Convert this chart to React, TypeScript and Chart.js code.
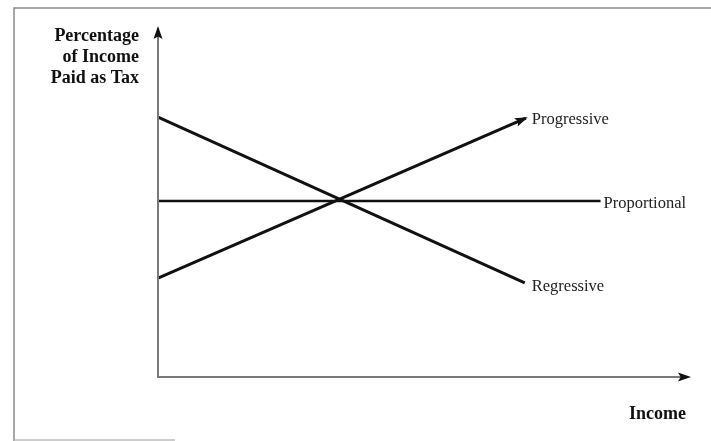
import React, { useEffect, useRef } from "react";
import { Chart, registerables } from "chart.js";

Chart.register(...registerables);

// Income (x) positions and tax-rate (y) values
const incomeRange = [0, 100];
const rateRange = [0, 100];
const progressiveX = [0, 69.4];
const progressiveY = [28.5, 74.6];
const proportionalX = [0, 83.5];
const proportionalY = [50.7, 50.7];
const regressiveX = [0, 69.2];
const regressiveY = [74.9, 27.1];
const lineLabels = ["Progressive", "Proportional", "Regressive"];
const yAxisTitle = ["Percentage", "of Income", "Paid as Tax"];
const xAxisTitle = "Income";

const SERIF = '"Liberation Serif", "Times New Roman", serif';

const pts = (xs: number[], ys: number[]) => xs.map((x, i) => ({ x, y: ys[i] }));

function arrowHead(ctx: CanvasRenderingContext2D, x: number, y: number, ang: number, len: number, half: number, color: string) {
  ctx.save();
  ctx.translate(x, y);
  ctx.rotate(ang);
  ctx.fillStyle = color;
  ctx.beginPath();
  ctx.moveTo(0, 0);
  ctx.lineTo(-len, -half);
  ctx.lineTo(-len * 0.8, 0);
  ctx.lineTo(-len, half);
  ctx.closePath();
  ctx.fill();
  ctx.restore();
}

const decorPlugin = {
  id: "decor",
  afterDraw(chart: any) {
    const ctx: CanvasRenderingContext2D = chart.ctx;
    const xs = chart.scales.x;
    const ys = chart.scales.y;
    const x0 = xs.getPixelForValue(incomeRange[0]);
    const x1 = xs.getPixelForValue(incomeRange[1]);
    const y0 = ys.getPixelForValue(rateRange[0]);
    const y1 = ys.getPixelForValue(rateRange[1]);

    ctx.save();
    // frame of the scanned figure
    ctx.strokeStyle = "#8a8a8a";
    ctx.lineWidth = 1.5;
    ctx.beginPath();
    ctx.moveTo(711, 8);
    ctx.lineTo(14, 8);
    ctx.lineTo(14, 441);
    ctx.stroke();
    ctx.strokeStyle = "#bbbbbb";
    ctx.beginPath();
    ctx.moveTo(14, 440);
    ctx.lineTo(175, 440);
    ctx.stroke();

    // axes
    ctx.strokeStyle = "#7a7a7a";
    ctx.lineWidth = 2;
    ctx.beginPath();
    ctx.moveTo(x0, y1 - 2);
    ctx.lineTo(x0, y0);
    ctx.lineTo(x1, y0);
    ctx.stroke();
    arrowHead(ctx, x0, y1 - 4, -Math.PI / 2, 13, 4.5, "#111");
    arrowHead(ctx, x1 + 3, y0, 0, 13, 4.5, "#111");

    // arrow on the progressive line
    const pa = xs.getPixelForValue(progressiveX[0]);
    const pb = xs.getPixelForValue(progressiveX[1]);
    const qa = ys.getPixelForValue(progressiveY[0]);
    const qb = ys.getPixelForValue(progressiveY[1]);
    arrowHead(ctx, pb + 2, qb - 1, Math.atan2(qb - qa, pb - pa), 13, 4.5, "#111");

    // line labels
    ctx.fillStyle = "#222";
    ctx.font = `16.5px ${SERIF}`;
    ctx.textAlign = "left";
    ctx.textBaseline = "middle";
    ctx.fillText(lineLabels[0], pb + 6, qb + 2);
    const px = xs.getPixelForValue(proportionalX[1]);
    const py = ys.getPixelForValue(proportionalY[1]);
    ctx.fillText(lineLabels[1], px + 3, py + 3);
    const rx = xs.getPixelForValue(regressiveX[1]);
    const ry = ys.getPixelForValue(regressiveY[1]);
    ctx.fillText(lineLabels[2], rx + 7, ry + 4);

    // axis titles
    ctx.fillStyle = "#111";
    ctx.font = `bold 18px ${SERIF}`;
    ctx.textAlign = "right";
    yAxisTitle.forEach((t, i) => ctx.fillText(t, 139, 36 + i * 21));
    ctx.fillText(xAxisTitle, 686, 414);
    ctx.restore();
  },
};

export default function App() {
  const ref = useRef<HTMLCanvasElement>(null);
  useEffect(() => {
    if (!ref.current) return;
    const lineStyle = {
      borderColor: "#111",
      borderWidth: 3,
      pointRadius: 0,
      fill: false,
      tension: 0,
    };
    const chart = new Chart(ref.current, {
      type: "line",
      data: {
        datasets: [
          { label: lineLabels[0], data: pts(progressiveX, progressiveY), ...lineStyle },
          { label: lineLabels[1], data: pts(proportionalX, proportionalY), ...lineStyle, borderWidth: 2.5 },
          { label: lineLabels[2], data: pts(regressiveX, regressiveY), ...lineStyle },
        ],
      },
      options: {
        responsive: false,
        animation: false,
        layout: { padding: { left: 158, right: 23, top: 30, bottom: 64 } },
        plugins: { legend: { display: false }, tooltip: { enabled: false } },
        scales: {
          x: { type: "linear", min: incomeRange[0], max: incomeRange[1], display: false },
          y: { type: "linear", min: rateRange[0], max: rateRange[1], display: false },
        },
      },
      plugins: [decorPlugin],
    });
    return () => chart.destroy();
  }, []);
  return (
    <div style={{ position: "fixed", left: 0, top: 0, width: 711, height: 441, background: "#fff" }}>
      <canvas ref={ref} width={711} height={441} />
    </div>
  );
}
